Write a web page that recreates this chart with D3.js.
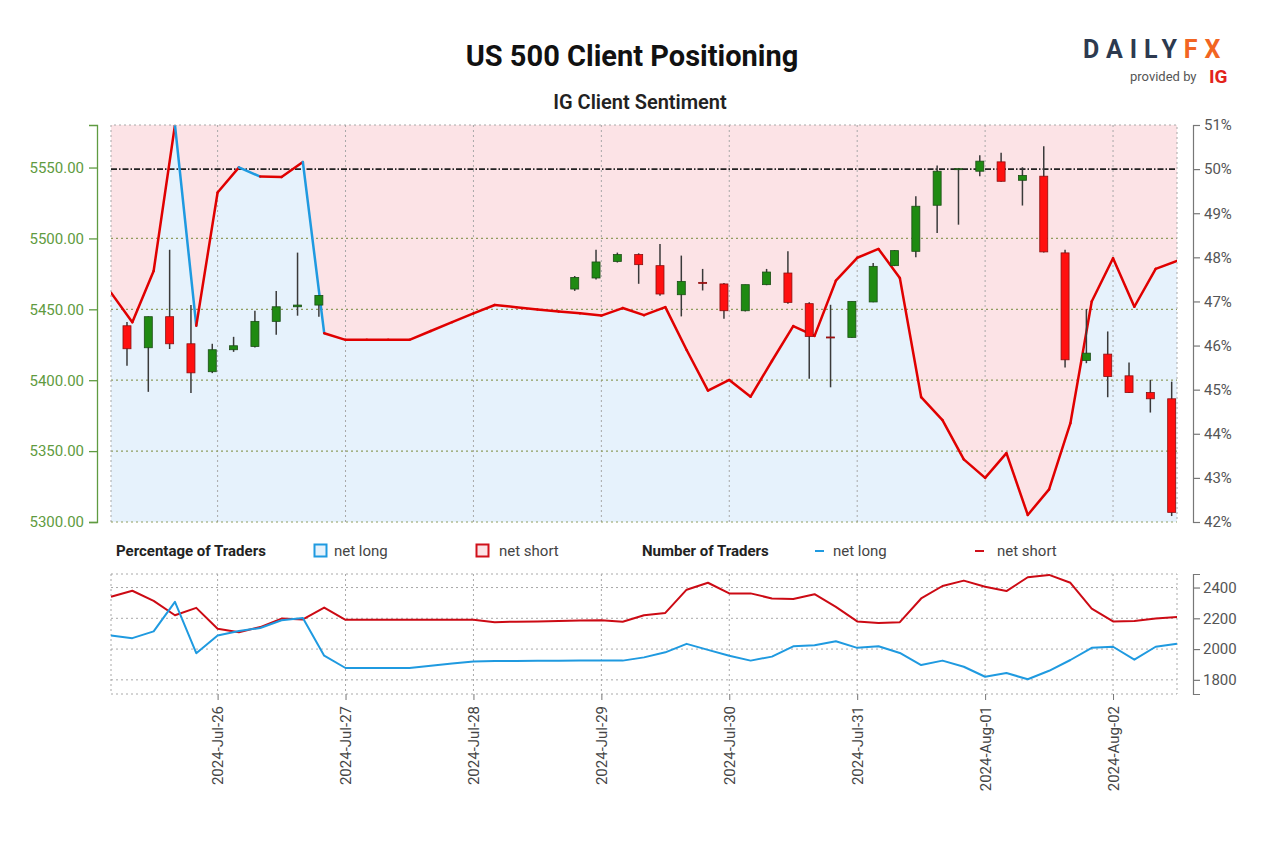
<!DOCTYPE html>
<html>
<head>
<meta charset="utf-8">
<script src="https://cdn.jsdelivr.net/npm/d3@7"></script>
<style>
  body { margin: 0; background: #fff; }
  svg { display: block; font-family: Roboto, "Open Sans", sans-serif; }
</style>
</head>
<body>
<svg id="chart" width="1280" height="853"></svg>
<script>
// ---- data ----
const seriesStart = '2024-07-25T04:00:00Z'; // sentiment + trader counts, one point every 4h
const seriesStepHours = 4;

const netLongPct = [47.2, 46.53, 47.69, 51.0, 46.45, 49.47, 50.04, 49.83, 49.82, 50.16,
  46.28, 46.13, 46.13, 46.13, 46.13, 46.33, 46.53, 46.73, 46.92, 46.87,
  46.82, 46.77, 46.73, 46.68, 46.85, 46.69, 46.87, 45.9, 44.98, 45.22,
  44.84, 45.65, 46.44, 46.22, 47.47, 47.99, 48.19, 47.53, 44.83, 44.31,
  43.42, 43.0, 43.56, 42.16, 42.74, 44.24, 47.0, 47.98, 46.88, 47.74, 47.92];

const netLongCount = [2088, 2071, 2115, 2307, 1973, 2088, 2117, 2137, 2187, 2202,
  1957, 1877, 1877, 1877, 1877, 1892, 1906, 1920, 1922, 1923,
  1924, 1924, 1925, 1925, 1925, 1946, 1979, 2034, 1995, 1957,
  1925, 1951, 2018, 2025, 2051, 2008, 2018, 1975, 1896, 1925,
  1885, 1820, 1844, 1804, 1859, 1929, 2008, 2015, 1931, 2015, 2034];

const netShortCount = [2340, 2379, 2313, 2220, 2268, 2132, 2110, 2143, 2198, 2193,
  2270, 2190, 2190, 2190, 2190, 2190, 2190, 2190, 2175, 2178,
  2180, 2182, 2185, 2188, 2178, 2220, 2235, 2386, 2431, 2362,
  2362, 2329, 2326, 2357, 2274, 2180, 2170, 2175, 2329, 2410,
  2445, 2405, 2377, 2467, 2482, 2431, 2263, 2180, 2183, 2198, 2208];

const candleTimes = [
  '2024-07-25T07:00Z', '2024-07-25T11:00Z', '2024-07-25T15:00Z', '2024-07-25T19:00Z', '2024-07-25T23:00Z',
  '2024-07-26T03:00Z', '2024-07-26T07:00Z', '2024-07-26T11:00Z', '2024-07-26T15:00Z', '2024-07-26T19:00Z',
  '2024-07-28T19:00Z', '2024-07-28T23:00Z',
  '2024-07-29T03:00Z', '2024-07-29T07:00Z', '2024-07-29T11:00Z', '2024-07-29T15:00Z', '2024-07-29T19:00Z', '2024-07-29T23:00Z',
  '2024-07-30T03:00Z', '2024-07-30T07:00Z', '2024-07-30T11:00Z', '2024-07-30T15:00Z', '2024-07-30T19:00Z', '2024-07-30T23:00Z',
  '2024-07-31T03:00Z', '2024-07-31T07:00Z', '2024-07-31T11:00Z', '2024-07-31T15:00Z', '2024-07-31T19:00Z', '2024-07-31T23:00Z',
  '2024-08-01T03:00Z', '2024-08-01T07:00Z', '2024-08-01T11:00Z', '2024-08-01T15:00Z', '2024-08-01T19:00Z', '2024-08-01T23:00Z',
  '2024-08-02T03:00Z', '2024-08-02T07:00Z', '2024-08-02T11:00Z'];
const candleOpen = [5438.4, 5422.9, 5444.8, 5425.7, 5406.0, 5421.5, 5423.8, 5441.5, 5451.8, 5453.0,
  5464.3, 5472.1, 5483.8, 5488.6, 5480.8, 5460.3, 5469.0, 5467.9, 5449.0, 5467.4,
  5475.6, 5454.0, 5430.5, 5430.2, 5455.2, 5480.8, 5490.9, 5523.4, 5549.0, 5547.4,
  5554.0, 5541.0, 5543.9, 5489.8, 5413.9, 5418.4, 5403.1, 5391.3, 5386.9];
const candleHigh = [5441.0, 5445.0, 5492.0, 5453.0, 5425.7, 5430.6, 5449.0, 5463.0, 5490.0, 5460.0,
  5473.5, 5492.0, 5490.0, 5489.5, 5496.0, 5487.9, 5478.5, 5468.5, 5467.4, 5478.5,
  5490.9, 5455.0, 5453.2, 5455.6, 5482.7, 5491.8, 5529.7, 5551.4, 5549.7, 5558.7,
  5560.4, 5550.2, 5565.0, 5492.0, 5450.2, 5434.4, 5412.5, 5400.3, 5399.0];
const candleLow = [5410.2, 5391.8, 5422.0, 5391.0, 5405.0, 5420.0, 5423.0, 5432.0, 5445.5, 5444.8,
  5463.0, 5471.0, 5483.0, 5468.0, 5459.5, 5445.0, 5463.3, 5443.4, 5448.5, 5467.0,
  5454.0, 5401.0, 5395.0, 5430.0, 5455.0, 5480.5, 5486.7, 5503.9, 5509.7, 5543.9,
  5540.0, 5523.2, 5490.0, 5409.0, 5412.0, 5388.0, 5391.0, 5377.2, 5304.2];
const candleClose = [5422.2, 5444.8, 5425.7, 5405.2, 5421.5, 5424.3, 5441.5, 5451.8, 5453.0, 5459.8,
  5472.5, 5483.4, 5488.6, 5481.5, 5460.8, 5469.7, 5468.3, 5449.0, 5467.4, 5476.3,
  5454.9, 5430.9, 5430.0, 5455.6, 5480.3, 5491.4, 5522.7, 5547.4, 5549.2, 5554.5,
  5540.3, 5544.4, 5490.5, 5414.4, 5419.1, 5402.6, 5391.3, 5386.9, 5306.8];

const dateTicks = ['2024-07-26', '2024-07-27', '2024-07-28', '2024-07-29', '2024-07-30', '2024-07-31', '2024-08-01', '2024-08-02'];
const priceTicks = [5300, 5350, 5400, 5450, 5500, 5550];
const pctTicks = [42, 43, 44, 45, 46, 47, 48, 49, 50, 51];
const countTicks = [1800, 2000, 2200, 2400];

// ---- layout ----
const svg = d3.select('#chart');
const plot = { left: 111, right: 1177, top: 125, bottom: 522 };
const lower = { top: 574, bottom: 694 };

const C = {
  blue: '#1f9ae0', red: '#e00000', pink: '#fce3e6', lightBlue: '#e6f2fc',
  green: '#5f9b41', grey: '#666', grid: '#a8a8a8', olive: '#8f9d5e'
};

const x = d3.scaleUtc()
  .domain([new Date('2024-07-25T04:00:00Z'), new Date('2024-08-02T12:00:00Z')])
  .range([plot.left, plot.right]);
const yPrice = d3.scaleLinear().domain([5300, 5580]).range([plot.bottom, plot.top]);
const yPct = d3.scaleLinear().domain([42, 51]).range([plot.bottom, plot.top]);
const yCount = d3.scaleLinear().domain([1708, 2488]).range([lower.bottom, lower.top]);

const seriesTime = i => d3.utcHour.offset(new Date(seriesStart), i * seriesStepHours);
const sentiment = netLongPct.map((v, i) => ({ t: seriesTime(i), v }));
const candles = candleTimes.map((t, i) => ({
  t: new Date(t), o: candleOpen[i], h: candleHigh[i], l: candleLow[i], c: candleClose[i]
}));
const dates = dateTicks.map(d => new Date(d + 'T00:00:00Z'));

// ---- titles & logo ----
svg.append('text').attr('x', 632).attr('y', 66).attr('text-anchor', 'middle')
  .style('font-size', '29px').style('font-weight', 700).attr('fill', '#111')
  .text('US 500 Client Positioning');
svg.append('text').attr('x', 640).attr('y', 109).attr('text-anchor', 'middle')
  .style('font-size', '20px').style('font-weight', 600).attr('fill', '#222')
  .text('IG Client Sentiment');

const logo = svg.append('text').attr('x', 1083).attr('y', 58)
  .style('font-size', '25px').style('font-weight', 700).style('letter-spacing', '7px');
logo.append('tspan').attr('fill', '#2d3a4f').text('DAILY');
logo.append('tspan').attr('fill', '#f26522').text('FX');
svg.append('text').attr('x', 1130).attr('y', 81)
  .style('font-size', '13px').attr('fill', '#555').text('provided by');
svg.append('text').attr('x', 1209).attr('y', 83)
  .style('font-size', '19px').style('font-weight', 700).attr('fill', '#e2231a').text('IG');

// ---- main panel ----
svg.append('clipPath').attr('id', 'clipMain').append('rect')
  .attr('x', plot.left).attr('y', plot.top)
  .attr('width', plot.right - plot.left).attr('height', plot.bottom - plot.top);

const main = svg.append('g').attr('clip-path', 'url(#clipMain)');

main.append('rect')
  .attr('x', plot.left).attr('y', plot.top)
  .attr('width', plot.right - plot.left).attr('height', plot.bottom - plot.top)
  .attr('fill', C.lightBlue);

main.append('path').datum(sentiment)
  .attr('fill', C.pink)
  .attr('d', d3.area().x(d => x(d.t)).y0(plot.top).y1(d => yPct(d.v)));

// grid
main.selectAll('.vgrid').data(dates).enter().append('line')
  .attr('x1', d => x(d)).attr('x2', d => x(d))
  .attr('y1', plot.top).attr('y2', plot.bottom)
  .attr('stroke', C.grid).attr('stroke-dasharray', '2,3');
main.selectAll('.hgrid').data(priceTicks.filter(p => p > 5300 && p < 5550)).enter().append('line')
  .attr('x1', plot.left).attr('x2', plot.right)
  .attr('y1', d => yPrice(d)).attr('y2', d => yPrice(d))
  .attr('stroke', C.olive).attr('stroke-width', 1.2).attr('stroke-dasharray', '2,3');

// 50% reference
main.append('line')
  .attr('x1', plot.left).attr('x2', plot.right)
  .attr('y1', yPct(50)).attr('y2', yPct(50))
  .attr('stroke', '#222').attr('stroke-width', 1.6).attr('stroke-dasharray', '6,2,1.5,2');

// sentiment line, coloured by which side holds the majority
const segLine = d3.line().x(d => x(d.t)).y(d => yPct(d.v));
d3.pairs(sentiment).forEach(([a, b]) => {
  main.append('path').datum([a, b])
    .attr('fill', 'none')
    .attr('stroke', a.v >= 50 ? C.blue : C.red)
    .attr('stroke-width', 2.5)
    .attr('stroke-linejoin', 'round').attr('stroke-linecap', 'round')
    .attr('d', segLine);
});

// candles
const bodyW = 8;
const cg = main.append('g');
cg.selectAll('.wick').data(candles).enter().append('line')
  .attr('x1', d => x(d.t)).attr('x2', d => x(d.t))
  .attr('y1', d => yPrice(d.h)).attr('y2', d => yPrice(d.l))
  .attr('stroke', '#3a3a3a').attr('stroke-width', 1.5);
cg.selectAll('.body').data(candles).enter().append('rect')
  .attr('x', d => x(d.t) - bodyW / 2)
  .attr('y', d => yPrice(Math.max(d.o, d.c)))
  .attr('width', bodyW)
  .attr('height', d => Math.max(1, Math.abs(yPrice(d.o) - yPrice(d.c))))
  .attr('fill', d => d.c >= d.o ? '#1f8a12' : '#ff1010')
  .attr('stroke', d => d.c >= d.o ? '#1c4d17' : '#8a1010')
  .attr('stroke-width', 0.8);

// border
svg.append('path')
  .attr('d', `M${plot.left},${plot.bottom}V${plot.top}H${plot.right}V${plot.bottom}`)
  .attr('fill', 'none').attr('stroke', C.grid).attr('stroke-dasharray', '2,3');
svg.append('line')
  .attr('x1', plot.left).attr('x2', plot.right).attr('y1', plot.bottom).attr('y2', plot.bottom)
  .attr('stroke', C.olive).attr('stroke-width', 1.2).attr('stroke-dasharray', '2,3');

// axes
const leftAxis = svg.append('g').attr('transform', 'translate(97,0)')
  .call(d3.axisLeft(yPrice).tickValues(priceTicks).tickFormat(d3.format('.2f')).tickSize(8).tickPadding(5));
leftAxis.selectAll('path, line').attr('stroke', C.green).attr('stroke-width', 1.3);
leftAxis.selectAll('text').attr('fill', C.green).style('font-size', '15px').style('font-family', 'Roboto');

const rightAxis = svg.append('g').attr('transform', 'translate(1193,0)')
  .call(d3.axisRight(yPct).tickValues(pctTicks).tickFormat(d => d + '%').tickSize(7).tickPadding(4));
rightAxis.selectAll('path, line').attr('stroke', '#777').attr('stroke-width', 1.2);
rightAxis.selectAll('text').attr('fill', '#555').style('font-size', '15px').style('font-family', 'Roboto');

// ---- legend ----
const lg = svg.append('g').style('font-size', '15px');
lg.append('text').attr('x', 116).attr('y', 556).style('font-weight', 700).attr('fill', '#222').text('Percentage of Traders');
lg.append('rect').attr('x', 314.5).attr('y', 544.5).attr('width', 12).attr('height', 12)
  .attr('fill', C.lightBlue).attr('stroke', C.blue).attr('stroke-width', 2);
lg.append('text').attr('x', 334).attr('y', 556).attr('fill', '#444').text('net long');
lg.append('rect').attr('x', 476.5).attr('y', 544.5).attr('width', 12).attr('height', 12)
  .attr('fill', C.pink).attr('stroke', '#d0101a').attr('stroke-width', 2);
lg.append('text').attr('x', 499).attr('y', 556).attr('fill', '#444').text('net short');
lg.append('text').attr('x', 642).attr('y', 556).style('font-weight', 700).attr('fill', '#222').text('Number of Traders');
lg.append('line').attr('x1', 815).attr('x2', 824).attr('y1', 551).attr('y2', 551)
  .attr('stroke', C.blue).attr('stroke-width', 2);
lg.append('text').attr('x', 833).attr('y', 556).attr('fill', '#444').text('net long');
lg.append('line').attr('x1', 975).attr('x2', 984).attr('y1', 551).attr('y2', 551)
  .attr('stroke', '#d0101a').attr('stroke-width', 2);
lg.append('text').attr('x', 997).attr('y', 556).attr('fill', '#444').text('net short');

// ---- lower panel: trader counts ----
const low = svg.append('g');
low.selectAll('.lv').data(dates).enter().append('line')
  .attr('x1', d => x(d)).attr('x2', d => x(d))
  .attr('y1', lower.top).attr('y2', lower.bottom)
  .attr('stroke', C.grid).attr('stroke-dasharray', '2,3');
low.selectAll('.lh').data(countTicks).enter().append('line')
  .attr('x1', plot.left).attr('x2', plot.right)
  .attr('y1', d => yCount(d)).attr('y2', d => yCount(d))
  .attr('stroke', C.grid).attr('stroke-dasharray', '2,3');
low.append('rect')
  .attr('x', plot.left).attr('y', lower.top)
  .attr('width', plot.right - plot.left).attr('height', lower.bottom - lower.top)
  .attr('fill', 'none').attr('stroke', C.grid).attr('stroke-dasharray', '2,3');

const countLine = arr => d3.line()
  .x((d, i) => x(seriesTime(i)))
  .y(d => yCount(d))(arr);
low.append('path').attr('d', countLine(netShortCount))
  .attr('fill', 'none').attr('stroke', '#cc0a14').attr('stroke-width', 2).attr('stroke-linejoin', 'round');
low.append('path').attr('d', countLine(netLongCount))
  .attr('fill', 'none').attr('stroke', C.blue).attr('stroke-width', 2).attr('stroke-linejoin', 'round');

const countAxis = svg.append('g').attr('transform', 'translate(1193,0)')
  .call(d3.axisRight(yCount).tickValues(countTicks).tickFormat(d3.format('d')).tickSize(7).tickPadding(3));
countAxis.selectAll('path, line').attr('stroke', '#777').attr('stroke-width', 1.2);
countAxis.selectAll('text').attr('fill', '#555').style('font-size', '15px').style('font-family', 'Roboto');

// date axis
const xAxis = svg.append('g').attr('transform', `translate(0,${lower.bottom})`)
  .call(d3.axisBottom(x).tickValues(dates).tickFormat(d3.utcFormat('%Y-%b-%d')).tickSize(6));
xAxis.select('.domain').remove();
xAxis.selectAll('line').attr('stroke', '#777');
xAxis.selectAll('text')
  .attr('transform', 'rotate(-90)')
  .attr('x', -12).attr('y', 0).attr('dy', '0.35em')
  .style('text-anchor', 'end')
  .attr('fill', '#444').style('font-size', '15px').style('font-family', 'Roboto');
</script>
</body>
</html>
